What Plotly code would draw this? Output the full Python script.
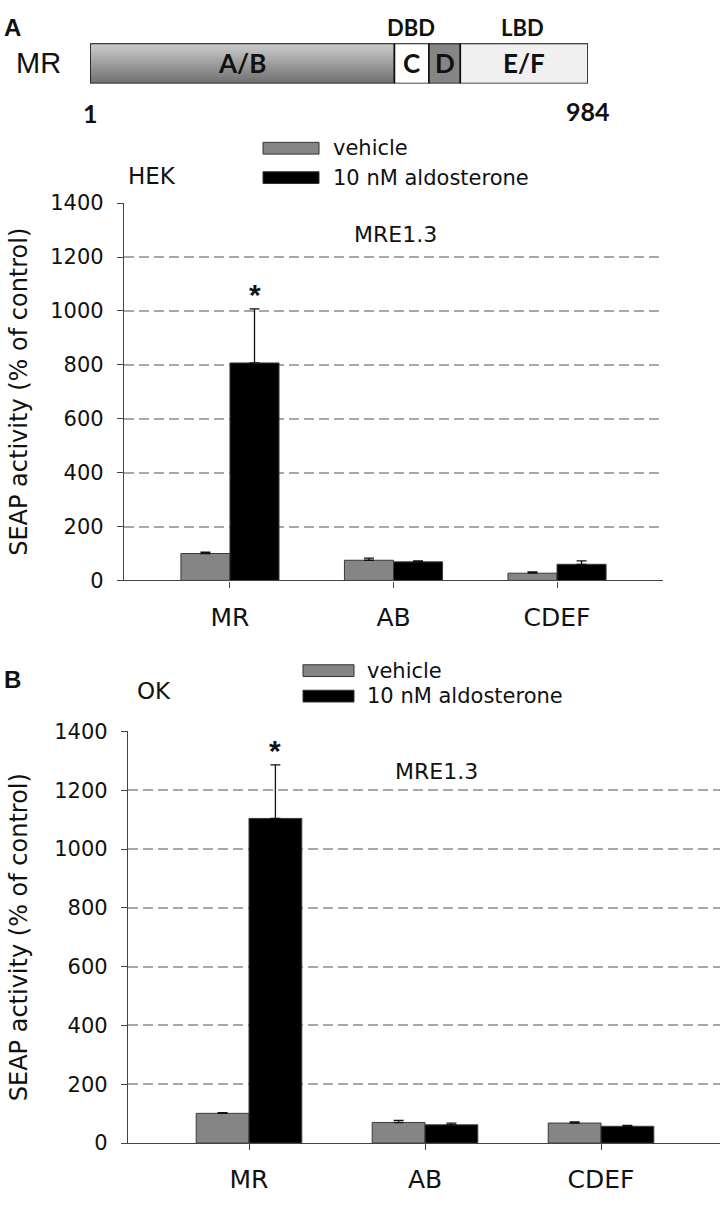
import plotly.graph_objects as go

# ---------------- data ----------------
categories = ["MR", "AB", "CDEF"]
series_names = ["vehicle", "10 nM aldosterone"]

hek_vehicle = [100, 75, 27]
hek_vehicle_err = [5, 8, 5]
hek_aldo = [807, 69, 60]
hek_aldo_err = [201, 4, 13]

ok_vehicle = [101, 70, 68]
ok_vehicle_err = [2, 7, 4]
ok_aldo = [1104, 62, 57]
ok_aldo_err = [182, 6, 3]

y_ticks = [0, 200, 400, 600, 800, 1000, 1200, 1400]

domain_names = ["A/B", "C", "D", "E/F"]
domain_starts = [1, 602, 670, 732]
domain_ends = [602, 670, 732, 984]
domain_fills = ["gradient", "#ffffff", "#858585", "#f0f0f0"]

W, H = 720, 1207
FONT = "DejaVu Sans, Liberation Sans, Arial, sans-serif"
AFONT = "Liberation Sans, Arial, sans-serif"
BFONT = "Lato, Open Sans, sans-serif"
GRAY = "#858585"
TXT = "#111111"


def px(x):
    return x / W


def py(y):
    return 1 - y / H


def note(x, y, text, size, family=FONT, xanchor="center", yanchor="middle", **kw):
    fig.add_annotation(x=px(x), y=py(y), xref="paper", yref="paper", text=text,
                       showarrow=False, xanchor=xanchor, yanchor=yanchor,
                       font=dict(family=family, size=size, color=TXT), **kw)


fig = go.Figure()

# ---------------- protein diagram ----------------
for name, s, e, fill in zip(domain_names, domain_starts, domain_ends, domain_fills):
    tr = dict(
        x=[s, e, e, s, s], y=[0, 0, 1, 1, 0], mode="lines", fill="toself",
        line=dict(color="#111111", width=1.6), xaxis="x3", yaxis="y3",
        showlegend=False, hoverinfo="skip",
    )
    if fill == "gradient":
        tr["fillgradient"] = dict(type="vertical",
                                  colorscale=[[0, "#6f6f6f"], [1, "#cdcdcd"]])
    else:
        tr["fillcolor"] = fill
    fig.add_trace(go.Scatter(**tr))
    fig.add_annotation(x=(s + e) / 2, y=0.5, xref="x3", yref="y3", text=f"<b>{name}</b>",
                       showarrow=False, xanchor="center", yanchor="middle",
                       font=dict(family=BFONT, size=26, color=TXT))

fig.add_annotation(x=(domain_starts[1] + domain_ends[1]) / 2 - 2, y=1, xref="x3", yref="y3",
                   text="<b>DBD</b>", showarrow=False, xanchor="center", yanchor="bottom",
                   yshift=0, font=dict(family=BFONT, size=22, color=TXT))
fig.add_annotation(x=(domain_starts[3] + domain_ends[3]) / 2 - 3, y=1, xref="x3", yref="y3",
                   text="<b>LBD</b>", showarrow=False, xanchor="center", yanchor="bottom",
                   yshift=0, font=dict(family=BFONT, size=22, color=TXT))
fig.add_annotation(x=domain_starts[0], y=0, xref="x3", yref="y3", text="<b>1</b>",
                   showarrow=False, xanchor="center", yanchor="middle", yshift=-29,
                   font=dict(family=BFONT, size=25, color=TXT))
fig.add_annotation(x=domain_ends[-1], y=0, xref="x3", yref="y3", text="<b>984</b>",
                   showarrow=False, xanchor="center", yanchor="middle", yshift=-27,
                   font=dict(family=BFONT, size=25, color=TXT))
note(38, 52, "MR", 29, family=AFONT)
note(13, 16, "<b>A</b>", 24, family=AFONT)
note(13, 681, "<b>B</b>", 24, family=AFONT)


# ---------------- bar panels ----------------
def add_panel(xa, ya, veh, veh_err, ald, ald_err):
    fig.add_trace(go.Bar(
        x=categories, y=veh, name=series_names[0], xaxis=xa, yaxis=ya,
        marker=dict(color=GRAY, line=dict(color="#3a3a3a", width=1)),
        error_y=dict(type="data", array=veh_err, arrayminus=[0] * len(veh), symmetric=False,
                     color="#111111", thickness=1.3, width=5),
        showlegend=False,
    ))
    fig.add_trace(go.Bar(
        x=categories, y=ald, name=series_names[1], xaxis=xa, yaxis=ya,
        marker=dict(color="#000000", line=dict(color="#3a3a3a", width=1)),
        error_y=dict(type="data", array=ald_err, arrayminus=[0] * len(ald), symmetric=False,
                     color="#111111", thickness=1.3, width=5),
        showlegend=False,
    ))
    # significance star above the aldosterone MR bar
    fig.add_annotation(x=0.15, y=ald[0] + ald_err[0], xref=xa, yref=ya, text="<b>*</b>",
                       showarrow=False, xanchor="center", yanchor="bottom", yshift=-4,
                       font=dict(family=AFONT, size=30, color=TXT))


add_panel("x", "y", hek_vehicle, hek_vehicle_err, hek_aldo, hek_aldo_err)
add_panel("x2", "y2", ok_vehicle, ok_vehicle_err, ok_aldo, ok_aldo_err)

yaxis_common = dict(
    range=[0, 1400], tickvals=y_ticks, showline=True, linecolor="#444444", linewidth=1.3,
    ticks="outside", ticklen=6, tickcolor="#444444", showgrid=True, gridcolor="#a8a8a8",
    gridwidth=1.8, griddash="10px,5px", zeroline=False,
    tickfont=dict(family=FONT, size=21, color=TXT), ticklabelstandoff=9,
)
xaxis_common = dict(
    type="category", showline=True, linecolor="#444444", linewidth=1.3, ticks="outside",
    ticklen=6, tickcolor="#444444", showgrid=False, zeroline=False,
    tickfont=dict(family=FONT, size=25, color=TXT), ticklabelstandoff=8,
)

fig.update_layout(
    xaxis=dict(**xaxis_common, domain=[px(124), px(663)], range=[-0.648, 2.648], anchor="y"),
    yaxis=dict(**yaxis_common, domain=[py(580), py(195)], anchor="x"),
    xaxis2=dict(**xaxis_common, domain=[px(128), 1.0], range=[-0.6875, 2.676], anchor="y2"),
    yaxis2=dict(**yaxis_common, domain=[py(1154), py(734)], anchor="x2"),
    xaxis3=dict(domain=[px(90), px(588)], range=[1, 984], visible=False, anchor="y3"),
    yaxis3=dict(domain=[py(73), py(32)], range=[0, 1], visible=False, anchor="x3"),
)

# y-axis titles
for yc in [(195 + 580) / 2, (734 + 1154) / 2]:
    note(19, yc, "SEAP activity (% of control)", 24, textangle=-90)

# panel labels / construct labels
note(126, 167, "HEK", 23, xanchor="left")
note(135, 693, "OK", 23, xanchor="left")
note(395, 227, "MRE1.3", 22)
note(437, 775, "MRE1.3", 22)

# legends (manual swatches)
shapes = []


def add_legend(x0, x1, y_rows, text_x):
    for name, color, yc in zip(series_names, [GRAY, "#000000"], y_rows):
        shapes.append(dict(type="rect", xref="paper", yref="paper",
                           x0=px(x0), x1=px(x1), y0=py(yc + 6), y1=py(yc - 6),
                           fillcolor=color, line=dict(color="#333333", width=1)))
        note(text_x, yc, name, 21, xanchor="left")


add_legend(263, 319, [139, 169], 331)
add_legend(303, 354, [672, 698], 365)

fig.update_layout(
    width=W, height=H, margin=dict(l=0, r=0, t=0, b=0),
    paper_bgcolor="white", plot_bgcolor="white",
    barmode="group", bargap=0.4, bargroupgap=0,
    shapes=shapes, showlegend=False,
)

fig.write_html(
    "out.html",
    config={"displayModeBar": False},
    post_script="document.body.style.margin='0';document.body.style.padding='0';",
)
